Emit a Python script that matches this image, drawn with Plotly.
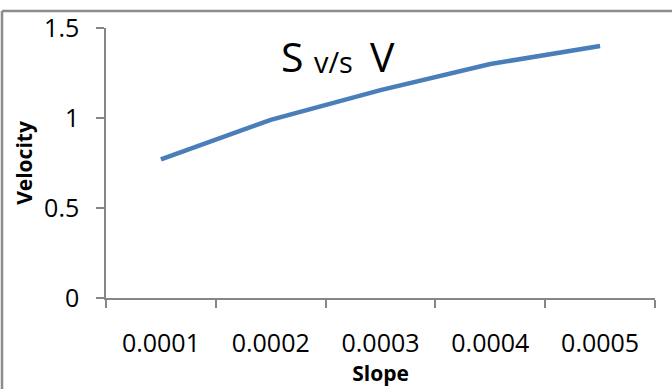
import plotly.graph_objects as go

slope_labels = ["0.0001", "0.0002", "0.0003", "0.0004", "0.0005"]
velocity = [0.77, 0.99, 1.155, 1.30, 1.40]
y_ticks = [0, 0.5, 1, 1.5]
y_ticktext = ["0", "0.5", "1", "1.5"]

W, H = 672, 389
L, R, T, B = 106, 17, 28, 91
PW, PH = W - L - R, H - T - B

fig = go.Figure()
fig.add_trace(go.Scatter(
    x=slope_labels, y=velocity, mode="lines",
    line=dict(color="#4A7EBB", width=4.5),
    showlegend=False, hoverinfo="skip"))

axis_color = "#868686"
font_family = "Open Sans, Noto Sans, sans-serif"

fig.update_layout(
    width=W, height=H,
    margin=dict(l=L, r=R, t=T, b=B, autoexpand=False),
    paper_bgcolor="white", plot_bgcolor="white",
    font=dict(family=font_family, color="black"),
    xaxis=dict(
        type="category", tickson="boundaries", range=[-0.5, 4.5],
        automargin=False,
        showline=True, linecolor=axis_color, linewidth=1.5,
        ticks="outside", ticklen=8, tickcolor=axis_color, tickwidth=1.5,
        showgrid=False, zeroline=False,
        tickfont=dict(size=25, family=font_family),
        ticklabelstandoff=22,
        title=dict(text="<b>Slope</b>", font=dict(size=21, family=font_family), standoff=6),
    ),
    yaxis=dict(
        range=[0, 1.5], tickvals=y_ticks, ticktext=y_ticktext,
        automargin=False,
        showline=True, linecolor=axis_color, linewidth=1.5,
        ticks="outside", ticklen=8, tickcolor=axis_color, tickwidth=1.5,
        showgrid=False, zeroline=False,
        tickfont=dict(size=25, family=font_family),
        ticklabelstandoff=12,
        title=dict(text="<b>Velocity</b>", font=dict(size=21, family=font_family), standoff=6),
    ),
)

def px_x(px):
    return (px - L) / PW

def px_y(py):
    return (H - B - py) / PH

# Title pieces inside plot area (baseline ~ y=75 px)
for txt, cx, size in [("S", 292, 41), ("v/s", 333, 29), ("V", 382, 41)]:
    fig.add_annotation(
        xref="paper", yref="paper", x=px_x(cx), y=px_y(75),
        xanchor="center", yanchor="bottom", yshift=-0.27 * size,
        text=txt, showarrow=False,
        font=dict(family=font_family, color="black", size=size))

# Chart border (top and left visible)
fig.add_shape(type="line", xref="paper", yref="paper",
              x0=px_x(2), x1=px_x(W + 5), y0=px_y(11), y1=px_y(11),
              line=dict(color="#8C8C8C", width=2.5))
fig.add_shape(type="line", xref="paper", yref="paper",
              x0=px_x(2), x1=px_x(2), y0=px_y(11), y1=px_y(H + 5),
              line=dict(color="#8C8C8C", width=2.5))

fig.write_html("out.html")
